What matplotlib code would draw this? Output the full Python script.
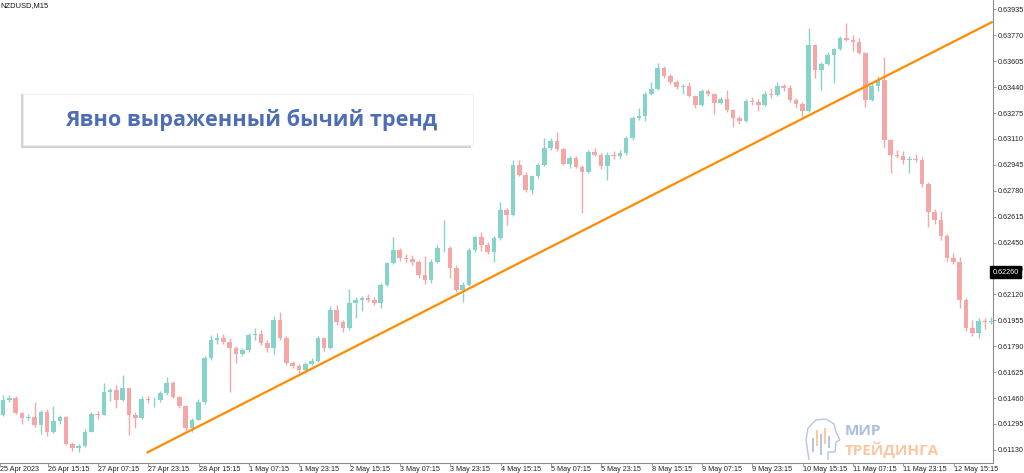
import numpy as np
import matplotlib.pyplot as plt
from matplotlib.patches import Rectangle
from matplotlib.path import Path
from matplotlib.patches import PathPatch

# NZDUSD M15, grouped into 2-hour candles
first_open = 0.61351
closes = [
    0.61447, 0.61460, 0.61364, 0.61332, 0.61339, 0.61288, 0.61371, 0.61243, 0.61313, 0.61339,
    0.61167, 0.61141, 0.61154, 0.61243, 0.61358, 0.61351, 0.61498, 0.61511, 0.61447, 0.61523,
    0.61351, 0.61332, 0.61453, 0.61447, 0.61447, 0.61492, 0.61555, 0.61466, 0.61409, 0.61269,
    0.61320, 0.61434, 0.61715, 0.61829, 0.61842, 0.61816, 0.61778, 0.61740, 0.61766, 0.61861,
    0.61867, 0.61810, 0.61778, 0.61957, 0.61842, 0.61683, 0.61664, 0.61638, 0.61676, 0.61695,
    0.61842, 0.61778, 0.62020, 0.61944, 0.61906, 0.62065, 0.62084, 0.62097, 0.62084, 0.62065,
    0.62180, 0.62320, 0.62403, 0.62352, 0.62345, 0.62326, 0.62243, 0.62211, 0.62326, 0.62415,
    0.62415, 0.62288, 0.62148, 0.62180, 0.62403, 0.62485, 0.62434, 0.62390, 0.62479, 0.62657,
    0.62625, 0.62944, 0.62880, 0.62785, 0.62874, 0.62944, 0.63052, 0.63097, 0.63046, 0.62950,
    0.62989, 0.62931, 0.62899, 0.63027, 0.63008, 0.62938, 0.63008, 0.63001, 0.63020, 0.63116,
    0.63243, 0.63256, 0.63396, 0.63428, 0.63562, 0.63511, 0.63473, 0.63441, 0.63447, 0.63383,
    0.63326, 0.63415, 0.63396, 0.63339, 0.63364, 0.63294, 0.63243, 0.63224, 0.63352, 0.63345,
    0.63326, 0.63396, 0.63390, 0.63447, 0.63434, 0.63358, 0.63333, 0.63288, 0.63708, 0.63549,
    0.63587, 0.63645, 0.63683, 0.63753, 0.63740, 0.63727, 0.63657, 0.63358, 0.63447, 0.63485,
    0.63103, 0.63008, 0.63001, 0.62976, 0.62982, 0.62976, 0.62823, 0.62645, 0.62594, 0.62492,
    0.62352, 0.62326, 0.62084, 0.61906, 0.61874, 0.61950, 0.61944, 0.61950,
]
highs = [
    0.61479, 0.61479, 0.61472, 0.61371, 0.61358, 0.61434, 0.61383, 0.61390, 0.61409, 0.61351,
    0.61345, 0.61179, 0.61167, 0.61262, 0.61371, 0.61377, 0.61555, 0.61523, 0.61543, 0.61606,
    0.61523, 0.61371, 0.61472, 0.61472, 0.61466, 0.61504, 0.61594, 0.61568, 0.61472, 0.61415,
    0.61332, 0.61453, 0.61727, 0.61861, 0.61874, 0.61867, 0.61842, 0.61791, 0.61778, 0.61874,
    0.61906, 0.61893, 0.61829, 0.61982, 0.62008, 0.61855, 0.61695, 0.61676, 0.61689, 0.61715,
    0.61855, 0.61848, 0.62046, 0.62052, 0.61957, 0.62154, 0.62103, 0.62109, 0.62122, 0.62103,
    0.62192, 0.62326, 0.62485, 0.62415, 0.62377, 0.62371, 0.62339, 0.62364, 0.62345, 0.62434,
    0.62594, 0.62428, 0.62307, 0.62199, 0.62415, 0.62492, 0.62517, 0.62453, 0.62492, 0.62708,
    0.62670, 0.62976, 0.62976, 0.62899, 0.62880, 0.62957, 0.63116, 0.63116, 0.63154, 0.63052,
    0.63001, 0.63001, 0.62944, 0.63040, 0.63052, 0.63020, 0.63027, 0.63033, 0.63040, 0.63129,
    0.63256, 0.63307, 0.63409, 0.63473, 0.63594, 0.63575, 0.63524, 0.63485, 0.63460, 0.63473,
    0.63390, 0.63428, 0.63428, 0.63403, 0.63377, 0.63422, 0.63301, 0.63256, 0.63364, 0.63377,
    0.63364, 0.63415, 0.63434, 0.63473, 0.63460, 0.63454, 0.63371, 0.63345, 0.63817, 0.63715,
    0.63600, 0.63664, 0.63689, 0.63766, 0.63848, 0.63772, 0.63753, 0.63664, 0.63473, 0.63511,
    0.63632, 0.63110, 0.63040, 0.63033, 0.63001, 0.63014, 0.62995, 0.62836, 0.62664, 0.62651,
    0.62504, 0.62383, 0.62358, 0.62097, 0.61957, 0.61969, 0.61969, 0.61976,
]
lows = [
    0.61345, 0.61434, 0.61358, 0.61294, 0.61320, 0.61275, 0.61230, 0.61218, 0.61237, 0.61294,
    0.61160, 0.61122, 0.61116, 0.61148, 0.61243, 0.61326, 0.61351, 0.61441, 0.61396, 0.61441,
    0.61224, 0.61269, 0.61326, 0.61428, 0.61402, 0.61434, 0.61479, 0.61460, 0.61396, 0.61250,
    0.61243, 0.61320, 0.61422, 0.61702, 0.61804, 0.61804, 0.61498, 0.61683, 0.61727, 0.61753,
    0.61829, 0.61797, 0.61753, 0.61740, 0.61829, 0.61670, 0.61651, 0.61619, 0.61619, 0.61670,
    0.61689, 0.61759, 0.61772, 0.61925, 0.61880, 0.61893, 0.61969, 0.62014, 0.62071, 0.62052,
    0.62033, 0.62173, 0.62313, 0.62332, 0.62326, 0.62307, 0.62224, 0.62186, 0.62192, 0.62320,
    0.62390, 0.62224, 0.62135, 0.62071, 0.62173, 0.62390, 0.62396, 0.62377, 0.62326, 0.62466,
    0.62562, 0.62619, 0.62874, 0.62772, 0.62759, 0.62861, 0.62938, 0.63040, 0.63033, 0.62944,
    0.62925, 0.62925, 0.62638, 0.62893, 0.63001, 0.62918, 0.62848, 0.62982, 0.62982, 0.63008,
    0.63103, 0.63231, 0.63224, 0.63390, 0.63422, 0.63498, 0.63460, 0.63428, 0.63396, 0.63377,
    0.63307, 0.63320, 0.63383, 0.63269, 0.63333, 0.63282, 0.63186, 0.63205, 0.63218, 0.63326,
    0.63288, 0.63320, 0.63371, 0.63383, 0.63415, 0.63345, 0.63307, 0.63250, 0.63282, 0.63498,
    0.63422, 0.63581, 0.63466, 0.63677, 0.63734, 0.63670, 0.63651, 0.63313, 0.63352, 0.63415,
    0.63052, 0.62893, 0.62989, 0.62950, 0.62893, 0.62963, 0.62804, 0.62549, 0.62568, 0.62466,
    0.62332, 0.62313, 0.62033, 0.61887, 0.61855, 0.61842, 0.61899, 0.61931,
]

# trend line anchors (hour index, price)
trend_hours = [46.6, 315.5]
trend_prices = [0.61111, 0.63857]

# axis labels
price_ticks = [0.61130, 0.61295, 0.61460, 0.61625, 0.61790, 0.61955, 0.62120, 0.62285, 0.62450,
               0.62615, 0.62780, 0.62945, 0.63110, 0.63275, 0.63440, 0.63605, 0.63770, 0.63935]
time_labels = ['26 Apr 15:15', '27 Apr 07:15', '27 Apr 23:15', '28 Apr 15:15', '1 May 07:15',
               '1 May 23:15', '2 May 15:15', '3 May 07:15', '3 May 23:15', '4 May 15:15',
               '5 May 07:15', '5 May 23:15', '8 May 15:15', '9 May 07:15', '9 May 23:15',
               '10 May 15:15', '11 May 07:15', '11 May 23:15', '12 May 15:15']
last_price = 0.62260

up_col = '#86d3c9'
down_col = '#f5a6a6'

W, H = 1024, 473
fig = plt.figure(figsize=(W / 100, H / 100), dpi=100)
ax = fig.add_axes([0, 10 / H, 992.5 / W, 463 / H])

opens = [first_open] + closes[:-1]
n = len(closes)
xs = np.arange(n) * 2 + 1.0
cols = [up_col if c >= o else down_col for o, c in zip(opens, closes)]
ax.vlines(xs, lows, highs, colors=cols, linewidth=1.0, zorder=2)
bottoms = np.minimum(opens, closes)
heights = np.maximum(np.abs(np.array(closes) - np.array(opens)), 0.00003)
ax.bar(xs, heights, bottom=bottoms, width=1.45, color=cols, linewidth=0, zorder=3)

ax.plot(trend_hours, trend_prices, color='#ff8c00', linewidth=1.6, zorder=4,
        solid_capstyle='butt')

ax.set_xlim(0, 315.4)
ax.set_ylim(0.61046, 0.63995)

for s in ['top', 'left']:
    ax.spines[s].set_visible(False)
for s in ['right', 'bottom']:
    ax.spines[s].set_color('#8c8c8c')
    ax.spines[s].set_linewidth(0.8)

fnt = 'Liberation Sans'
ax.yaxis.tick_right()
ax.set_yticks(price_ticks)
ax.set_yticklabels(['%.5f' % p for p in price_ticks], fontsize=5.2, family=fnt, color='#222222')
ax.tick_params(axis='y', length=2.5, width=0.6, color='#8c8c8c', pad=1)

tick_hours = [15.1 + 16 * k for k in range(len(time_labels))]
ax.set_xticks([0.1] + tick_hours)
ax.set_xticklabels(['25 Apr 2023'] + time_labels, fontsize=5.2, family=fnt, color='#222222')
for lab in ax.get_xticklabels():
    lab.set_ha('left')
ax.tick_params(axis='x', length=2, width=0.6, color='#8c8c8c', pad=0.3)

# last price marker on the right scale
ax.text(1.0, last_price, '%.5f' % last_price, transform=ax.get_yaxis_transform(),
        fontsize=5.2, family=fnt, color='white', va='center', ha='left', zorder=10,
        bbox=dict(boxstyle='square,pad=0.35', fc='black', ec='black'), clip_on=False)

fig.text(0 / W, 1 - 6 / H, 'NZDUSD,M15', fontsize=5.4, family=fnt, color='#111111', va='center')

# caption box with a soft shadow
def px(x, y):
    return x / W, 1 - y / H

fig.patches.append(Rectangle(px(21, 148), 450 / W, 54 / H, transform=fig.transFigure,
                             fc='#d2d2d2', ec='none', zorder=5))
fig.patches.append(Rectangle(px(23, 145), 450 / W, 51 / H, transform=fig.transFigure,
                             fc='white', ec='#f0f0f0', lw=0.5, zorder=6))
fig.text(*px(65, 120), 'Явно выраженный бычий тренд', fontsize=15.6, fontweight='bold',
         family='Open Sans', color='#4d6db5', va='center', ha='left', zorder=7)

# watermark logo
head = Path([(809, 460), (806, 440), (808, 428), (816, 420), (826, 419), (834, 424),
             (836, 432), (840, 440), (836, 442), (835, 452), (828, 452), (828, 460)])
verts = [px(x, y) for x, y in head.vertices]
fig.patches.append(PathPatch(Path(verts), transform=fig.transFigure, fill=False,
                             ec='#b8c4e6', lw=1.0, zorder=5))
logo_x = [813, 817, 821, 825, 829]
logo_c = ['#b8c4e6', '#fcc9a3', '#b8c4e6', '#fcc9a3', '#b8c4e6']
logo_top = [438, 430, 434, 428, 436]
logo_bot = [452, 446, 455, 444, 448]
for xx, cc, t, b in zip(logo_x, logo_c, logo_top, logo_bot):
    fig.patches.append(Rectangle(px(xx - 1, b), 2 / W, (b - t) / H, transform=fig.transFigure,
                                 fc=cc, ec='none', zorder=5))
fig.text(*px(845, 431), 'МИР', fontsize=11, fontweight='bold', family='Open Sans',
         color='#aebbe2', va='center', ha='left')
fig.text(*px(845, 450), 'ТРЕЙДИНГА', fontsize=11, fontweight='bold', family='Open Sans',
         color='#fcc7a0', va='center', ha='left')

fig.savefig('out.png', dpi=100)
